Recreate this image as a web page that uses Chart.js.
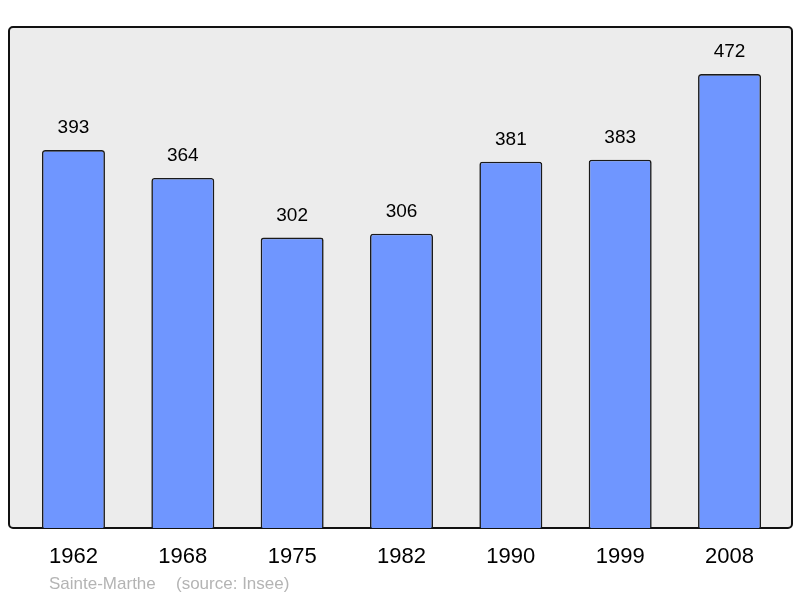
<!DOCTYPE html>
<html>
<head>
<meta charset="utf-8">
<script src="https://cdn.jsdelivr.net/npm/chart.js@4/dist/chart.umd.min.js"></script>
<style>
  html, body { margin: 0; padding: 0; background: #fff; }
  #wrap { width: 800px; height: 598px; }
</style>
</head>
<body>
<div id="wrap"><canvas id="chart"></canvas></div>
<script>
const years = ['1962', '1968', '1975', '1982', '1990', '1999', '2008'];
const population = [393, 364, 302, 306, 381, 383, 472];
const placeName = 'Sainte-Marthe';
const sourceName = '(source: Insee)';

// grey frame behind the bars, value labels and source line
const frame = {
  id: 'frame',
  beforeDraw(chart) {
    const a = chart.chartArea;
    const ctx = chart.ctx;
    ctx.save();
    ctx.beginPath();
    ctx.roundRect(a.left - 9.8, a.top, a.right - a.left + 17.6, a.bottom - a.top, 4);
    ctx.fillStyle = '#ececec';
    ctx.fill();
    ctx.lineWidth = 2;
    ctx.strokeStyle = '#111';
    ctx.stroke();
    ctx.restore();
  },
  afterDatasetsDraw(chart) {
    const ctx = chart.ctx;
    const meta = chart.getDatasetMeta(0);
    ctx.save();
    ctx.font = '19px "Liberation Sans", Arial, sans-serif';
    ctx.fillStyle = '#000';
    ctx.textAlign = 'center';
    ctx.textBaseline = 'middle';
    meta.data.forEach((bar, i) => {
      ctx.fillText(population[i], bar.x, bar.y - 22);
    });
    ctx.font = '17px "Liberation Sans", Arial, sans-serif';
    ctx.fillStyle = '#b4b4b4';
    ctx.textAlign = 'left';
    ctx.fillText(placeName, 49, 584);
    ctx.fillText(sourceName, 176, 584);
    ctx.restore();
  }
};

new Chart(document.getElementById('chart'), {
  type: 'bar',
  data: {
    labels: years,
    datasets: [{
      data: population,
      backgroundColor: '#6f96ff',
      borderColor: '#1a1a1a',
      borderWidth: 1.6,
      borderRadius: 3,
      borderSkipped: 'bottom',
      categoryPercentage: 1,
      barPercentage: 0.576
    }]
  },
  options: {
    responsive: true,
    maintainAspectRatio: false,
    animation: false,
    layout: { padding: { left: 18.8, right: 15.8, top: 27, bottom: 19.6 } },
    plugins: {
      legend: { display: false },
      tooltip: { enabled: false }
    },
    scales: {
      x: {
        grid: { display: false },
        border: { display: false },
        ticks: {
          color: '#000',
          padding: 8,
          font: { size: 22, family: '"Liberation Sans", Arial, sans-serif' }
        }
      },
      y: {
        display: false,
        min: 0,
        max: 521
      }
    }
  },
  plugins: [frame]
});
</script>
</body>
</html>
